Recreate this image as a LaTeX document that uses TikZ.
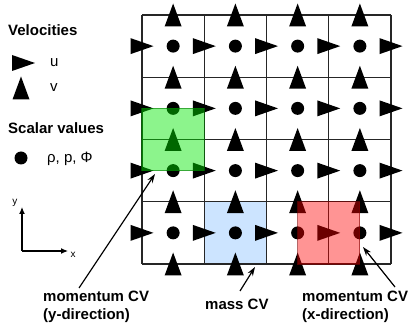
\documentclass[tikz,border=0pt]{standalone}
\usepackage{fontspec}
\setmainfont{Liberation Sans}
\usetikzlibrary{arrows.meta}
\definecolor{massblue}{RGB}{204,228,255}
\definecolor{cvgreen}{RGB}{0,230,0}
\definecolor{cvgreenedge}{RGB}{0,120,0}
\definecolor{cvred}{RGB}{255,0,0}
\definecolor{cvrededge}{RGB}{130,0,0}
\tikzset{
  utri/.pic={\fill[black] (-11.5,-8) -- (11.5,0) -- (-11.5,8) -- cycle;},
  vtri/.pic={\fill[black] (-8.5,11.5) -- (0,-11.5) -- (8.5,11.5) -- cycle;},
  scal/.pic={\fill[black] (0,0) circle[radius=6.5];},
  gridline/.style={line width=1.4pt, draw=black!85},
  txt/.style={font=\fontsize{15}{18}\selectfont, inner sep=0pt},
  btxt/.style={font=\fontsize{15}{18}\selectfont\bfseries, inner sep=0pt, align=left},
  callout/.style={line width=1.2pt, -{Stealth[length=9pt,width=6pt]}},
  axis/.style={line width=1.2pt, -{Latex[length=7pt,width=6pt]}},
  overlay green/.style={fill=cvgreen, draw=cvgreenedge, line width=1.2pt, fill opacity=0.45, draw opacity=0.6},
  overlay red/.style={fill=cvred, draw=cvrededge, line width=1.2pt, fill opacity=0.42, draw opacity=0.6},
}
\begin{document}
\begin{tikzpicture}[x=1pt,y=-1pt]
\useasboundingbox (0,0) rectangle (409,328);
\def\cs{62.25}
% mass CV (opaque, below grid)
\fill[massblue] (204.25,201.75) rectangle (266.5,264);
% grid
\foreach \k in {0,...,4}{
  \draw[gridline] ({142+\cs*\k},15) -- ({142+\cs*\k},264);
  \draw[gridline] (142,{15+\cs*\k}) -- (391,{15+\cs*\k});
}
% scalar points
\foreach \i in {0,...,3}{\foreach \j in {0,...,3}{
  \pic at ({142+\cs*\i+\cs/2},{15+\cs*\j+\cs/2}) {scal};
}}
% u velocities
\foreach \i in {0,...,4}{\foreach \j in {0,...,3}{
  \pic at ({142+\cs*\i},{15+\cs*\j+\cs/2}) {utri};
}}
% v velocities
\foreach \i in {0,...,3}{\foreach \j in {0,...,4}{
  \pic at ({142+\cs*\i+\cs/2},{15+\cs*\j}) {vtri};
}}
% momentum CVs (translucent overlays)
\path[overlay green] (142,108.375) rectangle (204.25,170.625);
\path[overlay red] (297.625,201.75) rectangle (359.875,264);
% legend
\node[btxt, anchor=base west] (velo) at (8,36) {Velocities};
\pic at (23.5,63) {utri};
\node[txt, anchor=base west] (ulab) at (50,67) {u};
\pic at (21,88) {vtri};
\node[txt, anchor=base west] (vlab) at (50,92) {v};
\node[btxt, anchor=base west] (scal) at (8,134) {Scalar values};
\pic at (21,158) {scal};
\node[txt, anchor=base west] (slab) at (47,163) {ρ, p, Φ};
% axes
\coordinate (orig) at (22,251);
\coordinate (yend) at (22,207);
\coordinate (xend) at (68,251);
\draw[axis] (orig) -- (yend);
\draw[axis] (orig) -- (xend);
\node[font=\fontsize{10}{12}\selectfont, inner sep=0pt] (ylab) at (15,203) {y};
\node[font=\fontsize{10}{12}\selectfont, inner sep=0pt] (xlab) at (73,255) {x};
% callout labels
\node[btxt, anchor=north west] (lgreen) at (43,291) {momentum CV\\(y-direction)};
\node[btxt, anchor=north west] (lblue) at (205,299) {mass CV};
\node[btxt, anchor=north west] (lred) at (302,291) {momentum CV\\(x-direction)};
\coordinate (tgreen) at (79,288);
\coordinate (hgreen) at (155,174);
\coordinate (tblue) at (240,291);
\coordinate (hblue) at (255,267);
\coordinate (tred) at (395,287);
\coordinate (hred) at (363,247);
\draw[callout] (tgreen) -- (hgreen);
\draw[callout] (tblue) -- (hblue);
\draw[callout] (tred) -- (hred);
\end{tikzpicture}
\end{document}
